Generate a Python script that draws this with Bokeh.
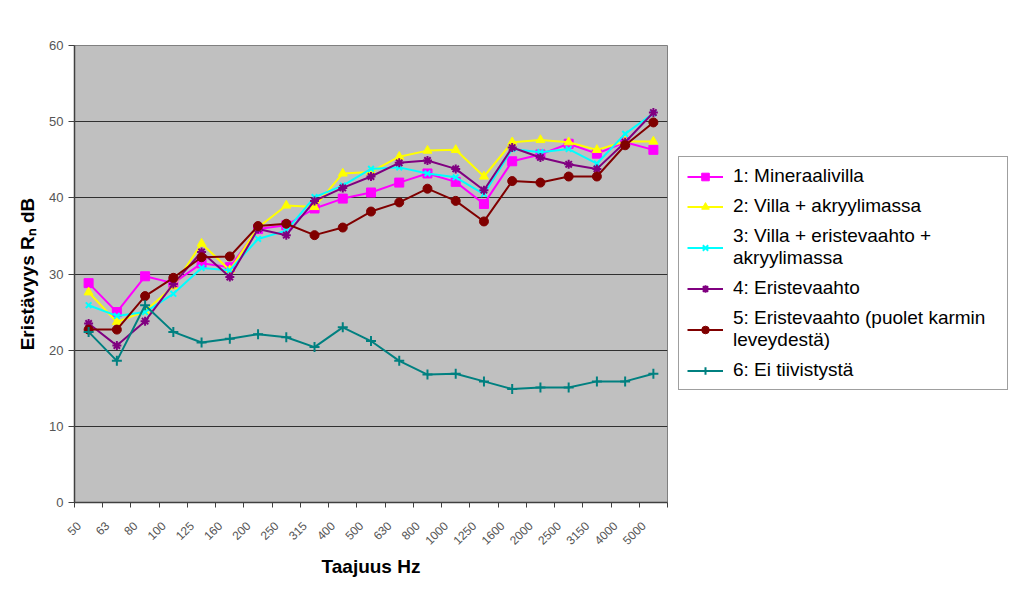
from math import pi
from bokeh.plotting import figure
from bokeh.models import FixedTicker, Legend, LegendItem, ColumnDataSource
from bokeh.embed import file_html
from bokeh.resources import INLINE

# ---------------- data ----------------
freqs = ["50", "63", "80", "100", "125", "160", "200", "250", "315", "400", "500",
         "630", "800", "1000", "1250", "1600", "2000", "2500", "3150", "4000", "5000"]

mineraalivilla = [28.8, 25.0, 29.7, 28.8, 31.4, 30.9, 35.9, 36.4, 38.6, 39.9, 40.7,
                  42.0, 43.2, 42.1, 39.2, 44.8, 45.7, 47.1, 45.8, 47.3, 46.3]
villa_akryyli = [27.6, 23.7, 25.1, 28.4, 34.0, 30.5, 36.1, 39.0, 38.8, 43.2, 43.4,
                 45.4, 46.2, 46.3, 42.8, 47.3, 47.6, 47.3, 46.3, 47.4, 47.4]
villa_eriste_akryyli = [25.9, 24.5, 25.0, 27.4, 30.8, 30.5, 34.6, 35.7, 40.1, 41.6, 43.8,
                        44.0, 43.2, 42.7, 40.5, 46.4, 46.0, 46.4, 44.5, 48.4, 51.1]
eristevaahto = [23.5, 20.6, 23.8, 28.7, 32.9, 29.6, 35.9, 35.1, 39.6, 41.3, 42.8,
                44.6, 44.9, 43.8, 41.0, 46.6, 45.3, 44.4, 43.8, 47.3, 51.2]
eristevaahto_puolet = [22.7, 22.7, 27.1, 29.5, 32.2, 32.3, 36.3, 36.6, 35.1, 36.1, 38.2,
                       39.4, 41.2, 39.6, 36.9, 42.2, 42.0, 42.8, 42.8, 46.9, 49.9]
ei_tiivistysta = [22.4, 18.6, 25.9, 22.4, 21.0, 21.5, 22.1, 21.7, 20.4, 23.0, 21.2,
                  18.6, 16.8, 16.9, 15.9, 14.9, 15.1, 15.1, 15.9, 15.9, 16.9]

series_labels = ["1: Mineraalivilla",
                 "2: Villa + akryylimassa",
                 "3: Villa + eristevaahto +\nakryylimassa",
                 "4: Eristevaahto",
                 "5: Eristevaahto (puolet karmin\nleveydestä)",
                 "6: Ei tiivistystä"]
y_ticks = [0, 10, 20, 30, 40, 50, 60]

# ---------------- styling ----------------
FONT = "Liberation Sans"
colors = ["#FF00FF", "#FFFF00", "#00FFFF", "#800080", "#800000", "#008080"]
markers = ["square", "triangle", "x", "asterisk", "circle", "cross"]
sizes = [9, 9, 8, 9, 9, 10]

x_centers = [i + 0.5 for i in range(len(freqs))]
x_bounds = list(range(len(freqs) + 1))
# tick-label anchors: rotated labels end slightly left of each category centre
label_pos = [i + 0.15 for i in range(len(freqs))]

p = figure(frame_width=593, frame_height=457, output_backend="svg", toolbar_location=None,
           x_range=(0, len(freqs)), y_range=(0, 60),
           min_border_left=74, min_border_right=341, min_border_top=45, min_border_bottom=76)

p.background_fill_color = "#C0C0C0"
p.border_fill_color = "white"
p.outline_line_color = "#808080"
p.outline_line_width = 1

# x axis
xa = p.xaxis[0]
xa.ticker = FixedTicker(ticks=label_pos, minor_ticks=x_bounds)
xa.major_label_overrides = {c: f for c, f in zip(label_pos, freqs)}
xa.major_label_orientation = pi / 4
xa.major_tick_out = 0
xa.major_tick_in = 0
xa.minor_tick_out = 5
xa.minor_tick_in = 0
xa.minor_tick_line_color = "#404040"
xa.axis_line_color = "#404040"
xa.axis_line_width = 1.5
xa.major_label_text_font = FONT
xa.major_label_text_font_size = "12px"
xa.major_label_text_color = "#555555"
xa.major_label_standoff = 16
xa.axis_label = "Taajuus Hz"
xa.axis_label_text_font = FONT
xa.axis_label_text_font_size = "19px"
xa.axis_label_text_font_style = "bold"
xa.axis_label_text_color = "black"
xa.axis_label_standoff = 4

# y axis
ya = p.yaxis[0]
ya.ticker = FixedTicker(ticks=y_ticks)
ya.major_tick_out = 6
ya.major_tick_in = 0
ya.minor_tick_out = 0
ya.minor_tick_in = 0
ya.major_tick_line_color = "#404040"
ya.axis_line_color = "#404040"
ya.axis_line_width = 1.5
ya.major_label_text_font = FONT
ya.major_label_text_font_size = "13px"
ya.major_label_text_color = "#555555"
ya.major_label_standoff = 5
ya.axis_label = "Eristävyys Rₙ dB"
ya.axis_label_text_font = FONT
ya.axis_label_text_font_size = "19px"
ya.axis_label_text_font_style = "bold"
ya.axis_label_text_color = "black"
ya.axis_label_standoff = 8

p.xgrid.visible = False
p.ygrid.grid_line_color = "#303030"
p.ygrid.grid_line_width = 1.2

all_series = [mineraalivilla, villa_akryyli, villa_eriste_akryyli,
              eristevaahto, eristevaahto_puolet, ei_tiivistysta]

items = []
for vals, col, mk, sz, lab in zip(all_series, colors, markers, sizes, series_labels):
    src = ColumnDataSource(dict(x=x_centers, y=vals))
    r_line = p.line("x", "y", source=src, line_color=col, line_width=2)
    lw = 2 if mk in ("x", "asterisk", "cross") else 1
    r_pts = p.scatter("x", "y", source=src, marker=mk, size=sz,
                      fill_color=col, line_color=col, line_width=lw)
    items.append(LegendItem(label=lab, renderers=[r_line, r_pts]))

legend = Legend(items=items, location=(11, 112))
legend.label_text_font = FONT
legend.label_text_font_size = "19px"
legend.label_text_color = "black"
legend.label_text_line_height = 1.0
legend.label_height = 19
legend.glyph_height = 19
legend.glyph_width = 36
legend.label_standoff = 10
legend.label_width = 266
legend.spacing = 8
legend.padding = 8
legend.margin = 0
legend.border_line_color = "#404040"
legend.border_line_width = 1
legend.background_fill_color = "white"
legend.background_fill_alpha = 1.0
p.add_layout(legend, "right")

open("out.html", "w").write(file_html(p, INLINE))
